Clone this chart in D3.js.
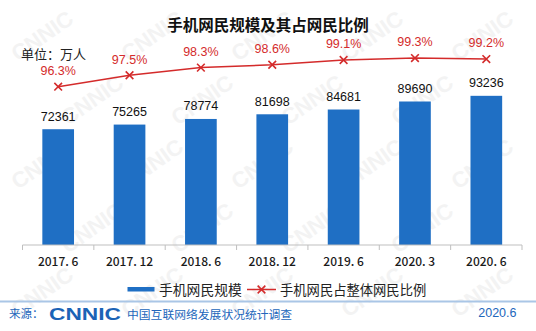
<!DOCTYPE html>
<html>
<head>
<meta charset="utf-8">
<script src="https://cdn.jsdelivr.net/npm/d3@7"></script>
<style>
  html, body { margin: 0; padding: 0; background: #fff; }
  svg { display: block; }
</style>
</head>
<body>
<div id="chart"></div>
<script>
// ---- data ----
const categories = ["2017. 6", "2017. 12", "2018. 6", "2018. 12", "2019. 6", "2020. 3", "2020. 6"];
const users = [72361, 75265, 78774, 81698, 84681, 89690, 93236];
const share = [96.3, 97.5, 98.3, 98.6, 99.1, 99.3, 99.2];
const seriesNames = ["手机网民规模", "手机网民占整体网民比例"];
const titleText = "手机网民规模及其占网民比例";
const unitText = "单位：万人";

const W = 536, H = 331;
const cjk = "'Noto Sans CJK SC', 'Noto Sans', sans-serif";
const num = "'Liberation Sans', Arial, sans-serif";
const blue = "#1f6fc4", red = "#d42b2b", footBlue = "#2266bb";

const svg = d3.select("#chart").append("svg").attr("width", W).attr("height", H);
svg.append("rect").attr("width", W).attr("height", H).attr("fill", "#fff");

// faint watermark, kept inside the canvas
const wm = svg.append("g").attr("fill", "#f3f3f3").attr("font-family", num)
  .attr("font-weight", "bold").attr("font-size", 22);
for (let r = 0; r < 5; r++) {
  for (let c = 0; c < 5; c++) {
    const x = 18 + c * 110 + (r % 2) * 50, y = 62 + r * 64;
    if (x > 465 || y > 322) continue;
    wm.append("text").attr("transform", `translate(${x},${y}) rotate(-35)`).text("CNNIC");
  }
}

// scales
const x = d3.scaleBand().domain(categories).range([22.5, 522]).paddingInner(0.556).paddingOuter(0.278);
const y = d3.scaleLinear().domain([0, 100000]).range([245, 85]);
const y2 = d3.scaleLinear().domain([90, 100]).range([146.8, 51.4]);
const cx = d => x(d) + x.bandwidth() / 2;

// title
svg.append("text").attr("x", 268).attr("y", 30.5).attr("text-anchor", "middle")
  .attr("font-family", cjk).attr("font-weight", "bold").attr("font-size", 15.5)
  .attr("fill", "#111").text(titleText);
svg.append("text").attr("x", 21).attr("y", 58.5)
  .attr("font-family", cjk).attr("font-size", 13).attr("fill", "#222").text(unitText);

// bars
svg.append("g").selectAll("rect").data(users).join("rect")
  .attr("x", (d, i) => x(categories[i])).attr("width", x.bandwidth())
  .attr("y", d => y(d)).attr("height", d => y(0) - y(d)).attr("fill", blue);
svg.append("g").selectAll("text").data(users).join("text")
  .attr("x", (d, i) => cx(categories[i])).attr("y", d => y(d) - 8.5)
  .attr("text-anchor", "middle").attr("font-family", num).attr("font-size", 12.5)
  .attr("fill", "#111").text(d => d);

// axis
const axis = d3.axisBottom(x).tickSize(0).tickPadding(0);
const ag = svg.append("g").attr("transform", `translate(0,${y(0)})`).call(axis);
ag.select(".domain").attr("stroke", "#bfbfbf").attr("d", "M22.5,0H522");
ag.selectAll(".tick text").attr("y", 21).attr("dy", 0)
  .attr("font-family", cjk).attr("font-size", 12).attr("font-weight", 500).attr("fill", "#1a1a1a");
const bounds = categories.map(c => x(c) - x.step() * x.paddingInner() / 2).concat([522]);
ag.append("g").selectAll("line").data(bounds).join("line")
  .attr("x1", d => d).attr("x2", d => d).attr("y1", 0).attr("y2", 5).attr("stroke", "#bfbfbf");

// line
const line = d3.line().x((d, i) => cx(categories[i])).y(d => y2(d));
svg.append("path").datum(share).attr("d", line).attr("fill", "none")
  .attr("stroke", red).attr("stroke-width", 1.5);
const cross = d3.symbol().type(d3.symbolX).size(40);
svg.append("g").selectAll("path").data(share).join("path")
  .attr("transform", (d, i) => `translate(${cx(categories[i])},${y2(d)})`)
  .attr("d", cross).attr("fill", "none").attr("stroke", red).attr("stroke-width", 1.6);
svg.append("g").selectAll("text").data(share).join("text")
  .attr("x", (d, i) => cx(categories[i])).attr("y", d => y2(d) - 11.7)
  .attr("text-anchor", "middle").attr("font-family", num).attr("font-size", 12.5)
  .attr("fill", red).text(d => d.toFixed(1) + "%");

// legend
const lg = svg.append("g");
lg.append("rect").attr("x", 127.5).attr("y", 287).attr("width", 27).attr("height", 4.5).attr("fill", blue);
lg.append("text").attr("x", 159).attr("y", 295).attr("font-family", cjk).attr("font-size", 13.8)
  .attr("fill", "#222").text(seriesNames[0]);
lg.append("line").attr("x1", 247).attr("x2", 276).attr("y1", 289.5).attr("y2", 289.5)
  .attr("stroke", red).attr("stroke-width", 1.5);
lg.append("path").attr("transform", "translate(261.5,289.5)").attr("d", cross)
  .attr("fill", "none").attr("stroke", red).attr("stroke-width", 1.6);
lg.append("text").attr("x", 280).attr("y", 295).attr("font-family", cjk).attr("font-size", 13.3)
  .attr("fill", "#222").text(seriesNames[1]);

// footer
svg.append("line").attr("x1", 0).attr("x2", W).attr("y1", 301.5).attr("y2", 301.5)
  .attr("stroke", "#aac6e6").attr("stroke-width", 2);
svg.append("text").attr("x", 9).attr("y", 318).attr("font-family", cjk).attr("font-size", 11.5)
  .attr("fill", footBlue).text("来源：");
svg.append("text").attr("x", 49).attr("y", 319.5).attr("font-family", num).attr("font-weight", "bold")
  .attr("font-size", 17).attr("textLength", 72).attr("lengthAdjust", "spacingAndGlyphs")
  .attr("fill", "#1b63b6").text("CNNIC");
svg.append("text").attr("x", 127).attr("y", 319).attr("font-family", cjk).attr("font-size", 11.8)
  .attr("fill", footBlue).text("中国互联网络发展状况统计调查");
svg.append("text").attr("x", 516.5).attr("y", 317).attr("text-anchor", "end").attr("font-family", num)
  .attr("font-size", 12.5).attr("fill", footBlue).text("2020.6");
</script>
</body>
</html>
